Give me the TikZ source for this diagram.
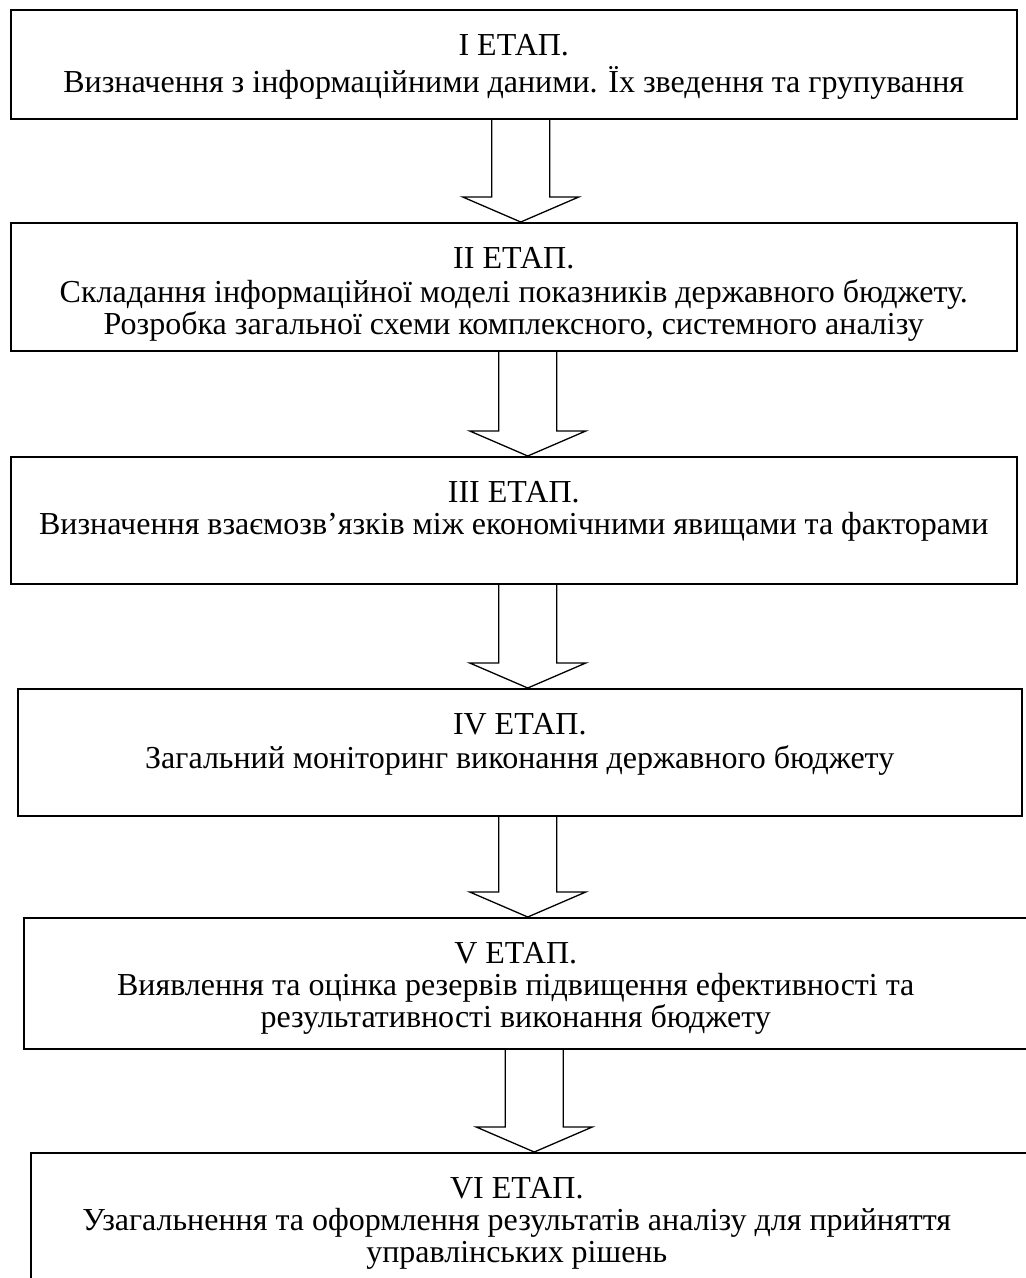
\documentclass[tikz,border=0pt]{standalone}
\usepackage{fontspec}
\setmainfont{Liberation Serif}
\usetikzlibrary{calc}

\tikzset{
  stagebox/.style={draw, line width=1.5pt, inner sep=0pt, anchor=north west,
    font=\fontsize{32pt}{32pt}\selectfont},
  hollowarrow/.style={draw, line width=1.3pt, line join=miter},
}
% box text: width, height, lines (top aligned), right shift of the text centre
\newcommand{\stagetext}[4][0]{\parbox[c][#3pt][t]{#2pt}{\centering
  \rightskip=#1pt plus 1fil\vspace*{23.6pt}\strut#4\par}}
% hollow block arrow from box #1 to box #2, shifted by #3
\newcommand{\stagearrow}[3]{%
  \path[hollowarrow] ($(#1.south)+(#3-29,0)$)
    -- ($(#1.south |- #2.north)+(#3-29,-25)$)
    -- ($(#1.south |- #2.north)+(#3-58,-25)$)
    -- ($(#1.south |- #2.north)+(#3,0)$)
    -- ($(#1.south |- #2.north)+(#3+58,-25)$)
    -- ($(#1.south |- #2.north)+(#3+29,-25)$)
    -- ($(#1.south)+(#3+29,0)$);}

\begin{document}
\begin{tikzpicture}[x=1pt, y=-1pt]
\useasboundingbox (0,0) rectangle (1026,1278);
\clip (0,0) rectangle (1026,1278);
\node[stagebox] (b1) at (10,9) {\stagetext{1006}{109}{I ЕТАП.\\
  Визначення з інформаційними даними. Їх зведення та групування}};
\node[stagebox] (b2) at (10,222) {\stagetext{1006}{128}{II ЕТАП.\\
  Складання інформаційної моделі показників державного бюджету.\\
  Розробка загальної схеми комплексного, системного аналізу}};
\node[stagebox] (b3) at (10,456) {\stagetext{1006}{127}{III ЕТАП.\\
  Визначення взаємозв’язків між економічними явищами та факторами}};
\node[stagebox] (b4) at (17,688) {\stagetext{1004}{127}{IV ЕТАП.\\
  Загальний моніторинг виконання державного бюджету}};
\node[stagebox] (b5) at (23,917) {\stagetext[24]{1008}{131}{V ЕТАП.\\
  Виявлення та оцінка резервів підвищення ефективності та\\
  результативності виконання бюджету}};
\node[stagebox] (b6) at (30,1152) {\stagetext[34]{1006}{150}{VI ЕТАП.\\
  Узагальнення та оформлення результатів аналізу для прийняття\\
  управлінських рішень}};
\stagearrow{b1}{b2}{7}
\stagearrow{b2}{b3}{14}
\stagearrow{b3}{b4}{14}
\stagearrow{b4}{b5}{8}
\stagearrow{b5}{b6}{6.5}
\end{tikzpicture}
\end{document}
